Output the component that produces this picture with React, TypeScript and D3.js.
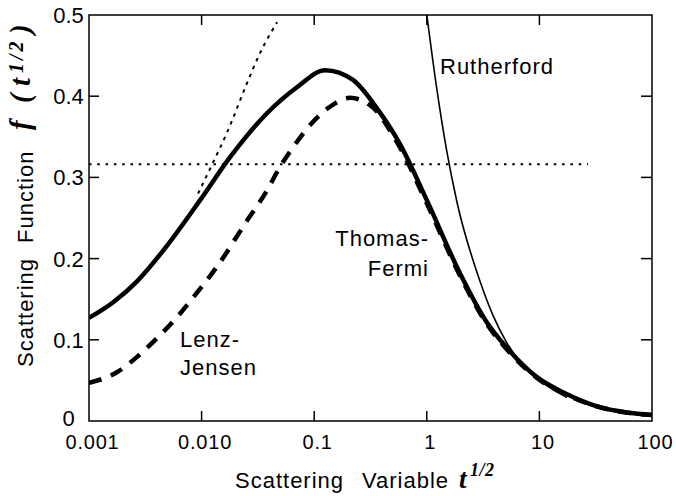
import React from "react";
import * as d3 from "d3";

const xTicks = [0.001, 0.01, 0.1, 1, 10, 100];
const xTickLabels = ["0.001", "0.010", "0.1", "1", "10", "100"];
const yTicks = [0, 0.1, 0.2, 0.3, 0.4, 0.5];
const yTickLabels = ["0", "0.1", "0.2", "0.3", "0.4", "0.5"];

// Thomas-Fermi (thick solid)
const tfT = [0.001, 0.00163, 0.00267, 0.00445, 0.0097, 0.0179, 0.0381, 0.0703, 0.125, 0.221, 0.361, 0.578, 1.0, 1.97, 3.43, 5.15, 9.5, 17.6, 32.5, 60, 100];
const tfF = [0.127, 0.146, 0.172, 0.208, 0.272, 0.325, 0.379, 0.411, 0.432, 0.42, 0.385, 0.341, 0.272, 0.182, 0.121, 0.09, 0.054, 0.033, 0.018, 0.0105, 0.0075];

// Lenz-Jensen (thick dashed)
const ljT = [0.001, 0.00177, 0.00267, 0.00402, 0.00605, 0.0091, 0.0137, 0.0243, 0.0381, 0.0497, 0.0648, 0.0955, 0.138, 0.208, 0.333, 0.471, 0.578, 1.0, 1.97, 3.43, 5.15, 9.5, 17.6, 32.5, 60, 100];
const ljF = [0.047, 0.06, 0.079, 0.102, 0.128, 0.158, 0.19, 0.243, 0.284, 0.313, 0.337, 0.367, 0.387, 0.398, 0.386, 0.358, 0.337, 0.268, 0.179, 0.119, 0.088, 0.053, 0.032, 0.018, 0.0103, 0.0075];

// Rutherford (thin solid)
const rT = [1.0, 1.23, 1.51, 1.85, 2.97, 3.87, 5.15, 9.5, 17.6];
const rF = [0.5, 0.408, 0.331, 0.27, 0.172, 0.13, 0.096, 0.053, 0.029];

// small-angle asymptote (dotted)
const dT = [0.0093, 0.0126, 0.0168, 0.0253, 0.033, 0.0468];
const dF = [0.28, 0.318, 0.355, 0.416, 0.453, 0.491];

// horizontal dotted level
const hT = [0.001, 27];
const hF = [0.3163, 0.3163];

const W = 676, H = 496;
const L = 89, R = 652, T = 15, B = 421;

const x = d3.scaleLog().domain([0.001, 100]).range([L, R]);
const y = d3.scaleLinear().domain([0, 0.5]).range([B, T]);

function path(ts: number[], fs: number[]) {
  const pts = ts.map((t, i) => [x(t), y(fs[i])] as [number, number]);
  return d3.line().curve(d3.curveMonotoneX)(pts) || "";
}

const sans = "'Liberation Sans', Arial, sans-serif";
const serif = "'Liberation Serif', 'Times New Roman', serif";

export default function App() {
  return (
    <svg width={W} height={H} style={{ display: "block", position: "absolute", left: 0, top: 0, background: "#fff" }}>
      <defs>
        <clipPath id="plot">
          <rect x={L} y={T} width={R - L} height={B - T} />
        </clipPath>
      </defs>
      <g clipPath="url(#plot)" fill="none" stroke="#000">
        <path d={path(hT, hF)} strokeWidth={2} strokeDasharray="2.5,5.8" />
        <path d={path(dT, dF)} strokeWidth={2} strokeDasharray="3.5,5" />
        <path d={path(rT, rF)} strokeWidth={1.6} />
        <path d={path(ljT, ljF)} strokeWidth={4.5} strokeDasharray="13,10" />
        <path d={path(tfT, tfF)} strokeWidth={4.5} />
      </g>
      {/* frame */}
      <rect x={L} y={T} width={R - L} height={B - T} fill="none" stroke="#000" strokeWidth={1.5} />
      {xTicks.map((t, i) => (
        <g key={"xt" + i}>
          {i > 0 && i < xTicks.length - 1 && (
            <>
              <line x1={x(t)} x2={x(t)} y1={B} y2={B - 10} stroke="#000" strokeWidth={1.5} />
              <line x1={x(t)} x2={x(t)} y1={T} y2={T + 10} stroke="#000" strokeWidth={1.5} />
            </>
          )}
          <text x={x(t) + 3.5} y={449} textAnchor="middle" fontFamily={sans} fontSize={20} letterSpacing={0.8}>
            {xTickLabels[i]}
          </text>
        </g>
      ))}
      {yTicks.map((v, i) => (
        <g key={"yt" + i}>
          {i > 0 && i < yTicks.length - 1 && (
            <>
              <line x1={L} x2={L + 10} y1={y(v)} y2={y(v)} stroke="#000" strokeWidth={1.5} />
              <line x1={R} x2={R - 11} y1={y(v)} y2={y(v)} stroke="#000" strokeWidth={1.5} />
            </>
          )}
          <text x={68.5} y={y(v) + (i === 0 ? 5 : 8)} textAnchor="middle" fontFamily={sans} fontSize={22}>
            {yTickLabels[i]}
          </text>
        </g>
      ))}
      {/* x axis title */}
      <text y={488} fontFamily={sans} fontSize={22} letterSpacing={1}>
        <tspan x={235}>Scattering</tspan>
        <tspan x={362}>Variable</tspan>
      </text>
      <text x={459} y={488} fontFamily={serif} fontSize={27} fontStyle="italic" fontWeight="bold">t</text>
      <text x={470} y={476} fontFamily={serif} fontSize={18} fontStyle="italic" fontWeight="bold" letterSpacing={0.5}>1/2</text>
      {/* y axis title */}
      <g transform="translate(33,0) rotate(-90)">
        <text y={0} fontFamily={sans} fontSize={22} letterSpacing={1}>
          <tspan x={-367}>Scattering</tspan>
          <tspan x={-243}>Function</tspan>
        </text>
      </g>
      <g transform="translate(30,0) rotate(-90)">
        <text y={0} fontFamily={serif} fontSize={29} fontStyle="italic" fontWeight="bold">
          <tspan x={-130}>f</tspan>
          <tspan x={-103}>(</tspan>
          <tspan x={-86}>t</tspan>
        </text>
        <text y={-7} x={-73} fontFamily={serif} fontSize={20} fontStyle="italic" fontWeight="bold" letterSpacing={3}>1/2</text>
        <text y={0} x={-34} fontFamily={serif} fontSize={29} fontStyle="italic" fontWeight="bold">)</text>
      </g>
      {/* curve labels */}
      <text x={440} y={74} fontFamily={sans} fontSize={22} letterSpacing={1}>Rutherford</text>
      <text x={429} y={246} textAnchor="end" fontFamily={sans} fontSize={22} letterSpacing={1}>Thomas-</text>
      <text x={429} y={276} textAnchor="end" fontFamily={sans} fontSize={22} letterSpacing={1}>Fermi</text>
      <text x={180} y={347} fontFamily={sans} fontSize={22} letterSpacing={1}>Lenz-</text>
      <text x={180} y={375} fontFamily={sans} fontSize={22} letterSpacing={1}>Jensen</text>
    </svg>
  );
}
